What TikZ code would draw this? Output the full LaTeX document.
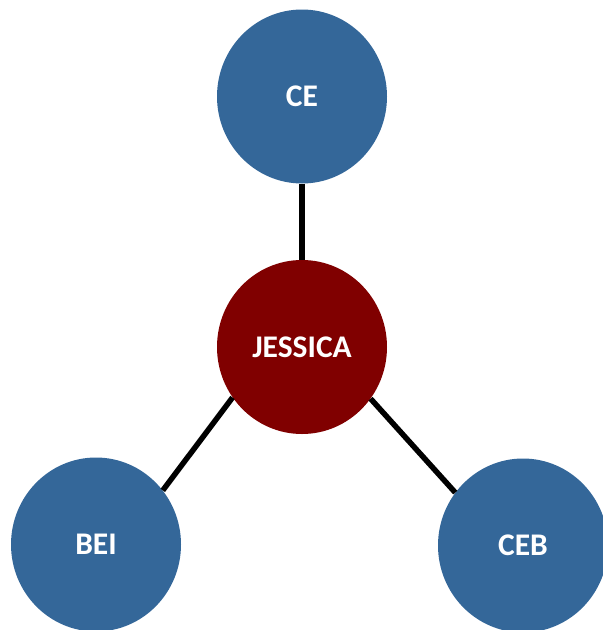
\documentclass[tikz,border=0pt]{standalone}
\usepackage{fontspec}
\setmainfont{Carlito}
\usetikzlibrary{shapes.geometric}
\definecolor{hubblue}{RGB}{52,103,153}
\definecolor{hubred}{RGB}{128,0,0}
\tikzset{
  bubble/.style={ellipse, minimum width=170pt, minimum height=174pt, inner sep=0pt,
    text=white, font=\bfseries\fontsize{31.5}{36}\selectfont},
  outer/.style={bubble, fill=hubblue},
  center/.style={bubble, fill=hubred},
  link/.style={line width=5.5pt, black}
}
\begin{document}
\begin{tikzpicture}[x=1pt,y=-1pt]
  \useasboundingbox (0,0) rectangle (603,630);
  \node[outer]  (ce)  at (302,96.5) {CE};
  \node[center] (jes) at (302,347)  {JESSICA};
  \node[outer]  (bei) at (96,544.5) {BEI};
  \node[outer]  (ceb) at (523,545.5) {CEB};
  \draw[link] (ce.south) -- (jes.north);
  \draw[link] (jes.216) -- (bei.39);
  \draw[link] (jes.323) -- (ceb.142);
\end{tikzpicture}
\end{document}
